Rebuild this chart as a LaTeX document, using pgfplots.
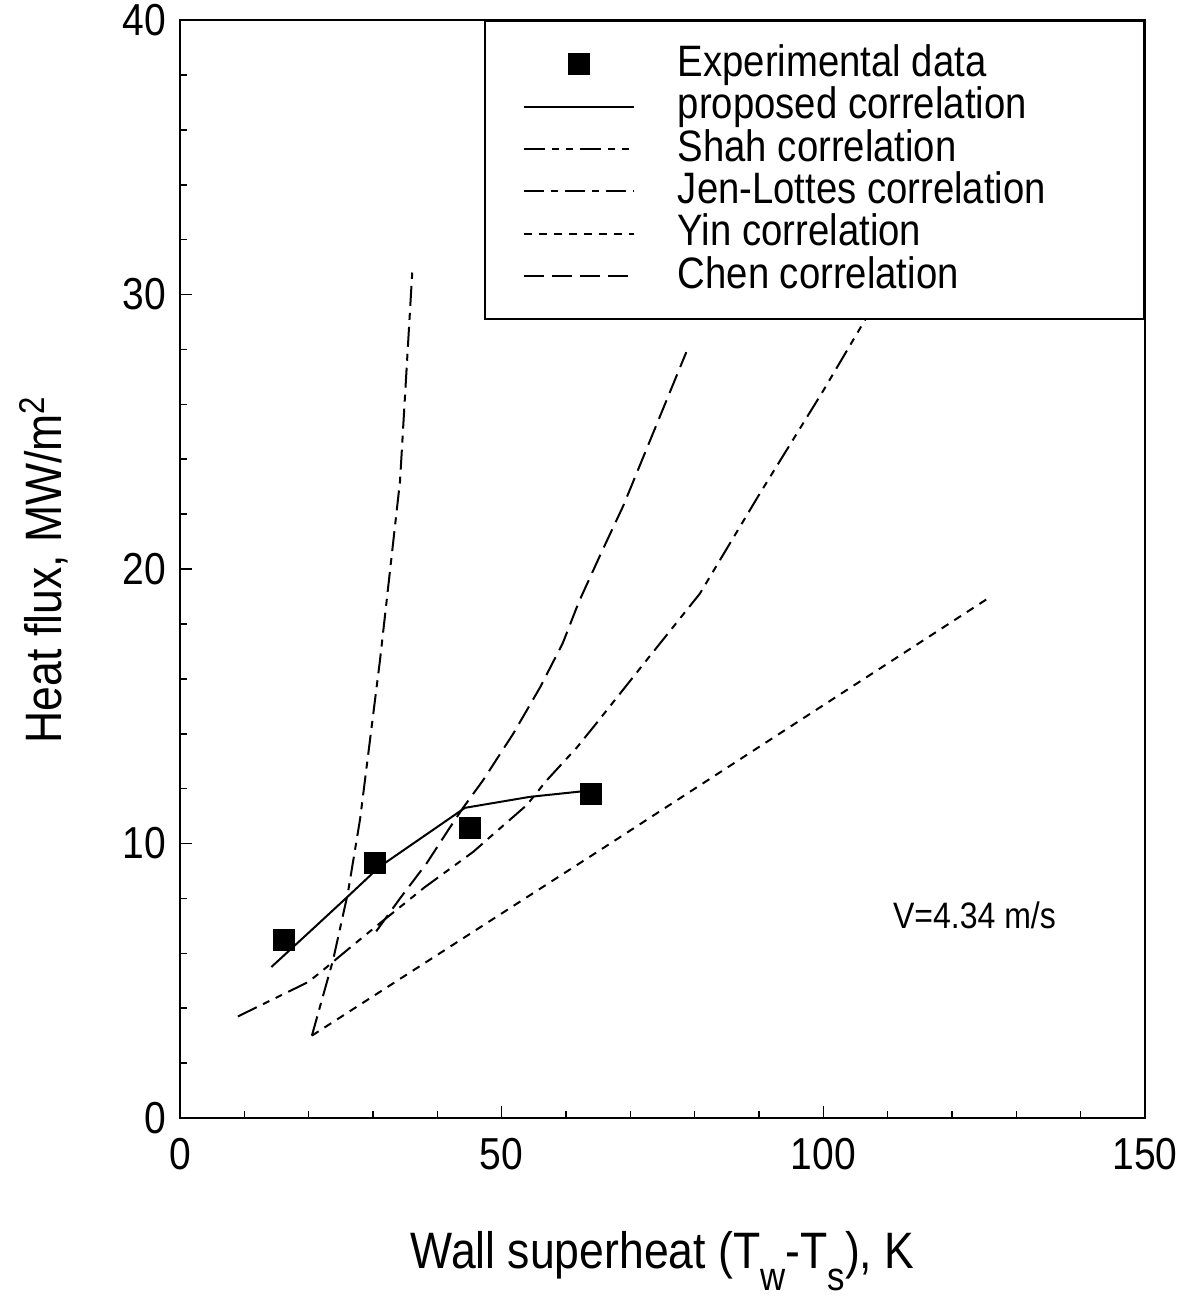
\documentclass[border=0pt]{standalone}
\usepackage{fontspec}
\setmainfont{Liberation Sans}[FakeStretch=0.87]
\usepackage{pgfplots}
\pgfplotsset{compat=1.18}
\newcommand{\lowsub}[1]{\raisebox{-5.5pt}{\fontsize{10}{12}\selectfont #1}}

\begin{document}
\begin{tikzpicture}
\begin{axis}[
  scale only axis,
  width=241.25pt, height=274.5pt,
  xmin=0, xmax=150, ymin=0, ymax=40,
  xtick={0,50,100,150}, ytick={0,10,20,30,40},
  minor x tick num=4, minor y tick num=4,
  tick pos=left,
  tick align=inside,
  major tick length=3pt, minor tick length=1.8pt,
  axis line style={line width=0.6pt},
  every tick/.style={black, line width=0.4pt},
  /pgf/number format/assume math mode=true,
  ticklabel style={font=\fontsize{11.2}{13}\selectfont},
  xticklabel style={yshift=-1.5pt},
  xlabel={Wall superheat (T\lowsub{w}-T\lowsub{s}), K},
  ylabel={Heat flux, MW/m\textsuperscript{2}},
  label style={font=\fontsize{12.8}{15}\selectfont},
  xlabel style={at={(axis description cs:0.5,0)}, anchor=base, yshift=-37.5pt},
  ylabel style={at={(axis description cs:-0.1223,0.5)}, anchor=base},
  legend style={at={(1,1)}, anchor=north east, draw=black, line width=0.5pt, fill=white,
    font=\fontsize{11}{13}\selectfont, inner xsep=9.5pt, inner ysep=5.5pt,
    row sep=0pt, column sep=10.75pt,
    nodes={inner sep=0pt, text height=8.3pt, text depth=2.3pt}},
  legend cell align=left,
  legend image code/.code={\draw[mark repeat=2,mark phase=2,#1] plot coordinates {(0pt,0pt) (13.75pt,0pt) (27.5pt,0pt)};},
]
\coordinate (sw) at (rel axis cs:0,0);
\coordinate (ne) at (rel axis cs:1,1);

% Experimental data
\addplot[only marks, mark=square*, mark size=2.5pt, black] coordinates {
  (16.2,6.48) (30.3,9.29) (45.1,10.56) (63.9,11.8)
};
\addlegendentry{Experimental data}

% proposed correlation
\addplot[black, mark=none, line width=0.5pt] coordinates {
  (14.2,5.5) (20,6.75) (26,8.05) (31,9.15) (44.3,11.3) (54.4,11.7) (62.5,11.9)
};
\addlegendentry{proposed correlation}

% Shah correlation
\addplot[black, mark=none, line width=0.5pt, dash pattern=on 5.25pt off 1.75pt on 1.75pt off 1.75pt on 1.75pt off 1.75pt] coordinates {
  (9,3.7) (19.9,4.95) (21.8,5.3) (26.4,6.2) (31.1,7.1) (38,8.4) (45.6,9.7) (49,10.4) (53.9,11.4) (57,12.3) (61.7,13.5) (64.8,14.4) (72.6,16.7) (80.8,19.1) (90,22.7) (100,26.5) (106.8,29.2) (110,30.5)
};
\addlegendentry{Shah correlation}

% Jen-Lottes correlation
\addplot[black, mark=none, line width=0.5pt, dash pattern=on 5pt off 1.75pt on 1.75pt off 1.75pt] coordinates {
  (20.5,3.0) (23.8,5.76) (26.1,8.2) (28,10.9) (31.1,16.7) (34.2,23.2) (36.1,30.8)
};
\addlegendentry{Jen-Lottes correlation\hspace*{15pt}}

% Yin correlation
\addplot[black, mark=none, line width=0.5pt, dash pattern=on 2pt off 1.75pt] coordinates {
  (20.5,3.0) (65.3,9.76) (125.4,18.9)
};
\addlegendentry{Yin correlation}

% Chen correlation
\addplot[black, mark=none, line width=0.5pt, dash pattern=on 5pt off 2pt] coordinates {
  (30.5,6.8) (34.2,8.0) (38.4,9.3) (42,10.6) (44,11.3) (47.1,12.3) (51.8,14.0) (56,15.7) (59.5,17.3) (62,18.8) (65.5,20.6) (68.9,22.3) (78.7,27.9)
};
\addlegendentry{Chen correlation}

\node[font=\fontsize{9.2}{11}\selectfont] at (axis cs:123.5,7.4) {V=4.34 m/s};
\end{axis}
\pgfresetboundingbox
\path ([shift={(-45pt,-45pt)}]sw) rectangle ([shift={(9pt,5pt)}]ne);
\end{tikzpicture}
\end{document}
